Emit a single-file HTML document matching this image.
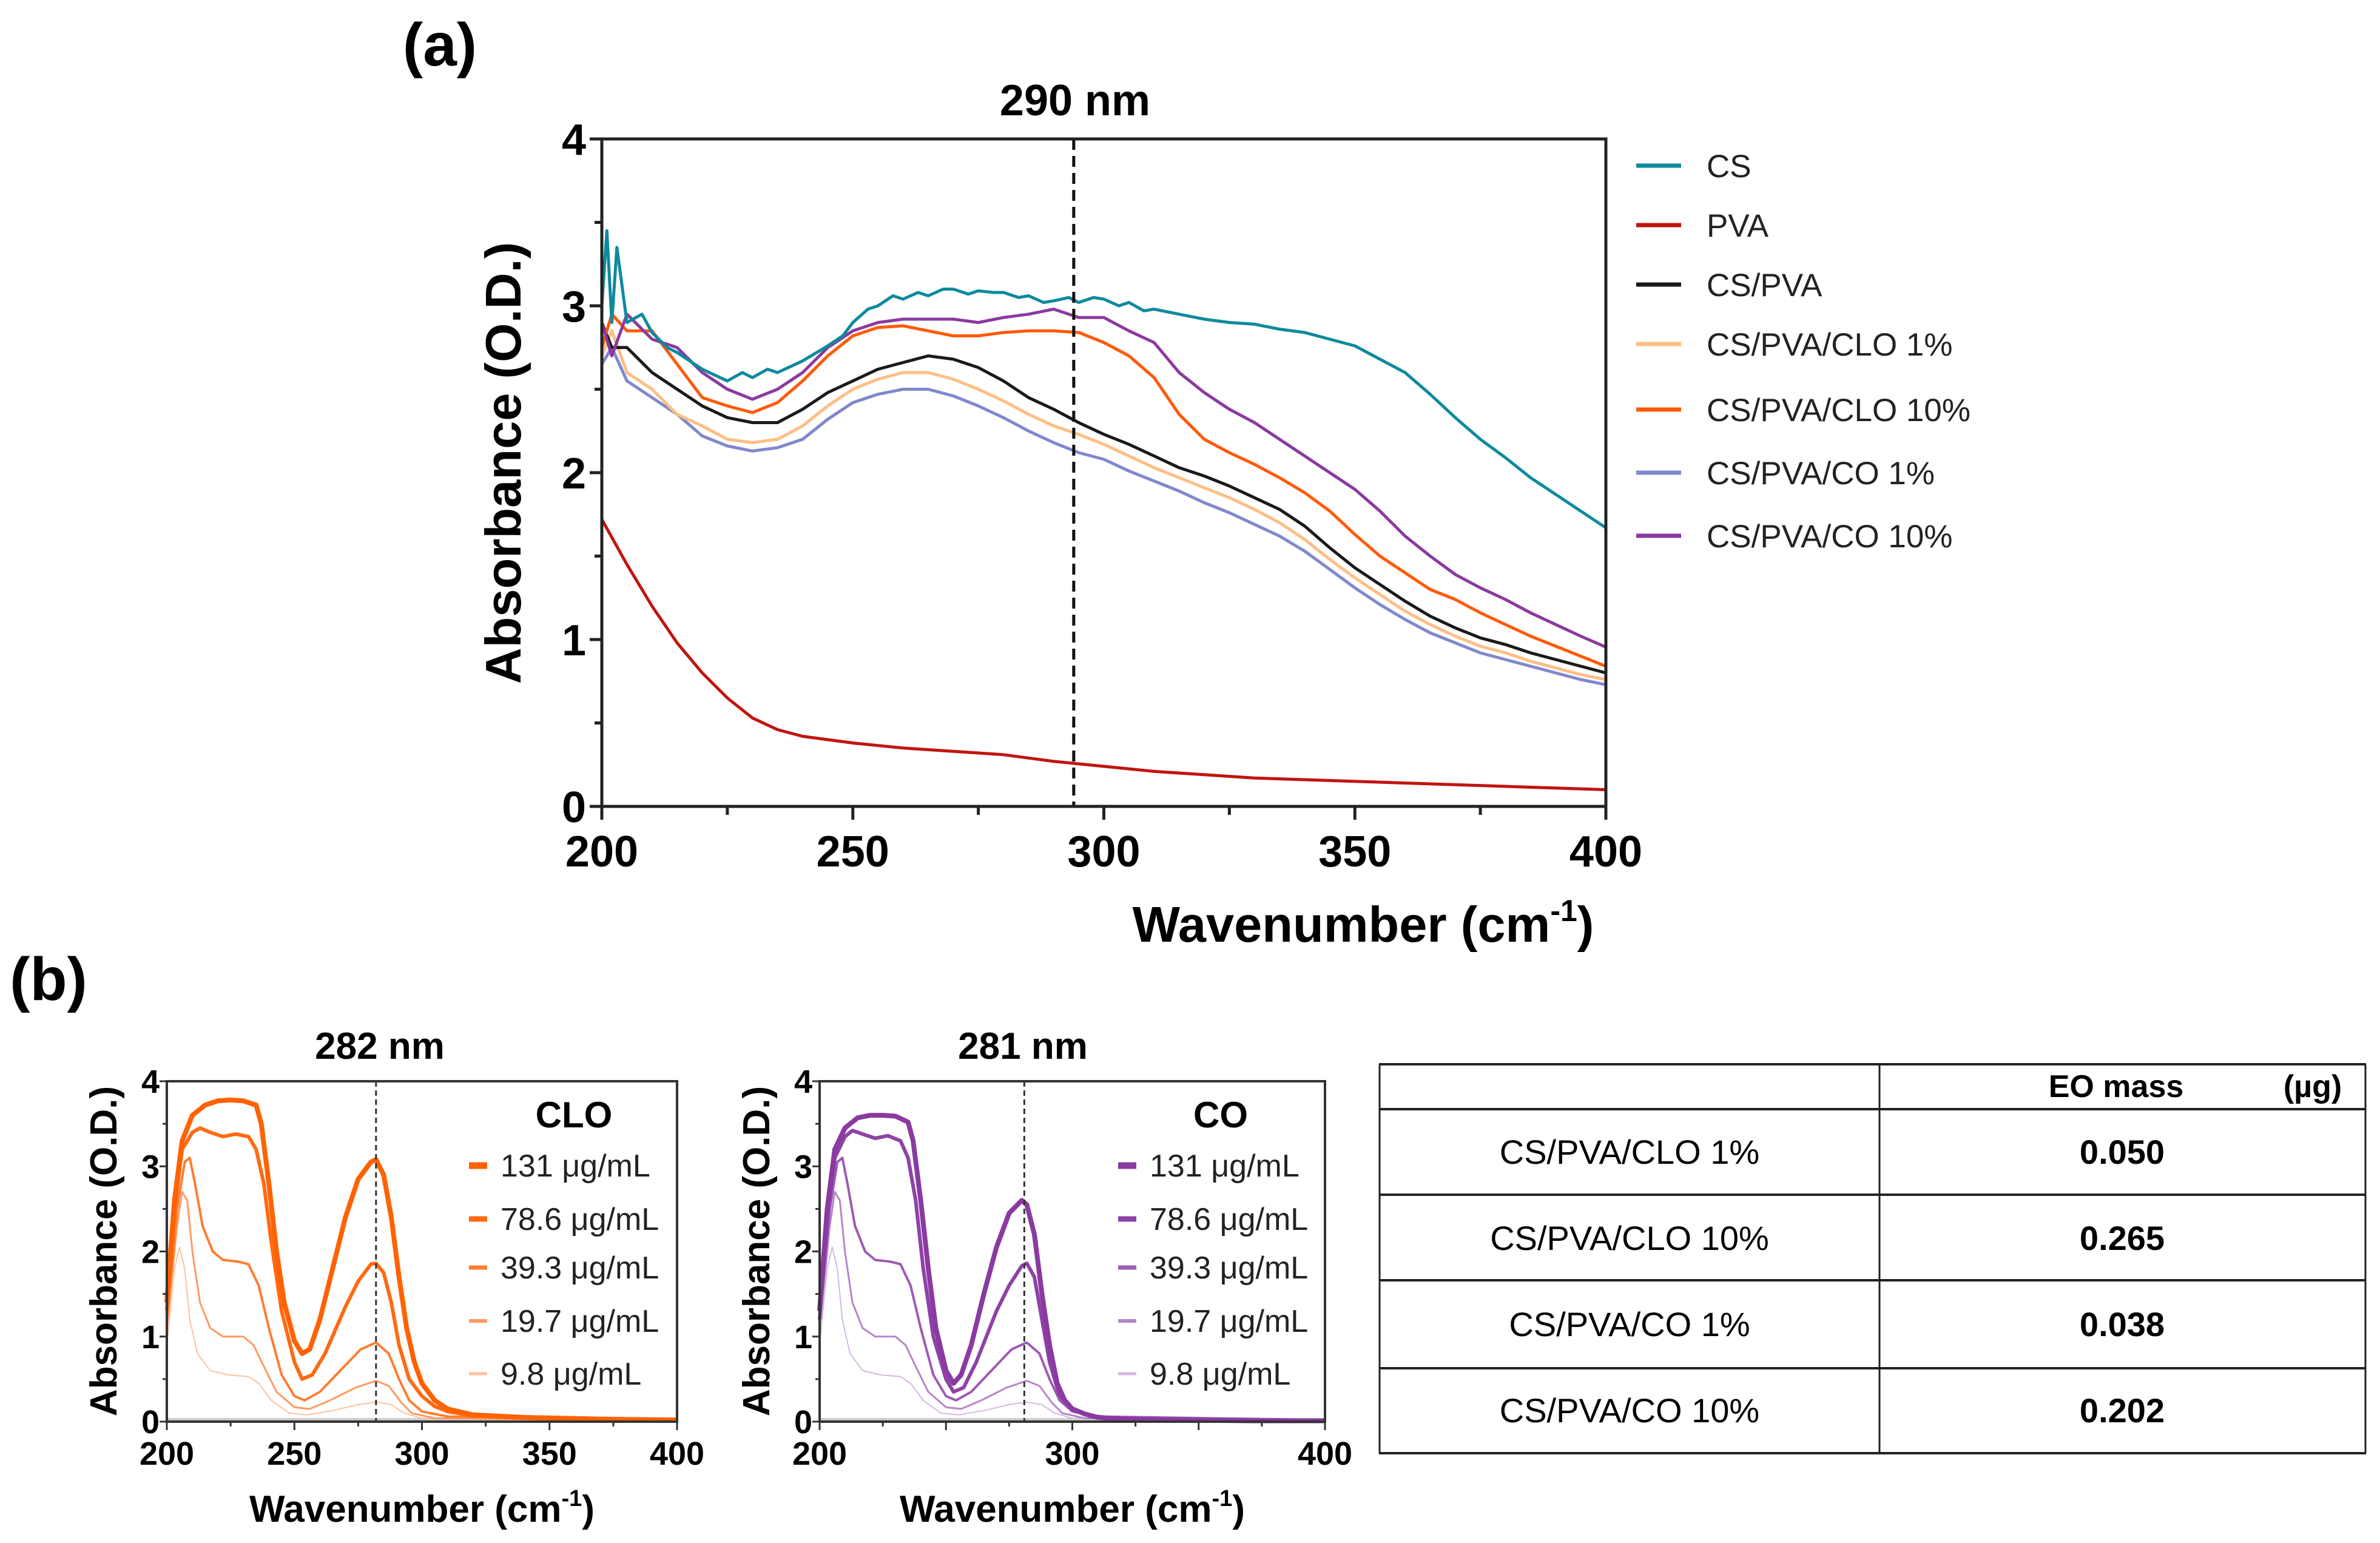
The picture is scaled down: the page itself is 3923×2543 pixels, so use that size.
<!DOCTYPE html>
<html><head><meta charset="utf-8">
<style>
html,body{margin:0;padding:0;background:#fff;}
svg{display:block;font-family:"Liberation Sans",Arial,sans-serif;}
</style></head>
<body>
<svg id="fig" width="3923" height="2543" viewBox="0 0 3923 2543" xmlns="http://www.w3.org/2000/svg">
<rect width="3923" height="2543" fill="#fff"/>
<text x="725" y="108" font-size="100" font-weight="bold" text-anchor="middle">(a)</text>
<text x="80" y="1648" font-size="100" font-weight="bold" text-anchor="middle">(b)</text>
<g id="pa"></g>
<g id="pb1"></g>
<g id="pb2"></g>
<g id="tbl">
  <line x1="2273" y1="1754" x2="3900" y2="1754" stroke="#222" stroke-width="4"/>
  <line x1="2273" y1="1828" x2="3900" y2="1828" stroke="#222" stroke-width="4"/>
  <line x1="2273" y1="1969" x2="3900" y2="1969" stroke="#222" stroke-width="4"/>
  <line x1="2273" y1="2110" x2="3900" y2="2110" stroke="#222" stroke-width="4"/>
  <line x1="2273" y1="2255" x2="3900" y2="2255" stroke="#222" stroke-width="4"/>
  <line x1="2273" y1="2395" x2="3900" y2="2395" stroke="#222" stroke-width="4"/>
  <line x1="2274" y1="1754" x2="2274" y2="2395" stroke="#222" stroke-width="3"/>
  <line x1="3098" y1="1754" x2="3098" y2="2395" stroke="#222" stroke-width="3"/>
  <line x1="3899" y1="1754" x2="3899" y2="2395" stroke="#222" stroke-width="3"/>
  <text x="3488" y="1808" font-size="52" font-weight="bold" text-anchor="middle">EO mass</text>
  <text x="3812" y="1808" font-size="52" font-weight="bold" text-anchor="middle">(µg)</text>
  <text x="2686" y="1918" font-size="56" text-anchor="middle">CS/PVA/CLO 1%</text>
  <text x="3498" y="1918" font-size="56" font-weight="bold" text-anchor="middle">0.050</text>
  <text x="2686" y="2060" font-size="56" text-anchor="middle">CS/PVA/CLO 10%</text>
  <text x="3498" y="2060" font-size="56" font-weight="bold" text-anchor="middle">0.265</text>
  <text x="2686" y="2202" font-size="56" text-anchor="middle">CS/PVA/CO 1%</text>
  <text x="3498" y="2202" font-size="56" font-weight="bold" text-anchor="middle">0.038</text>
  <text x="2686" y="2344" font-size="56" text-anchor="middle">CS/PVA/CO 10%</text>
  <text x="3498" y="2344" font-size="56" font-weight="bold" text-anchor="middle">0.202</text>
</g>
</svg>
<script>
// ---------- Panel (a) data ----------
const aYTicks = [0,1,2,3,4];
const aXTicks = [200,250,300,350,400];
const csX  = [200,201,202,203,205,208,210,213,215,220,225,228,230,233,235,240,245,248,250,253,255,258,260,263,265,268,270,273,275,278,280,283,285,288,290,293,295,298,300,303,305,308,310,315,320,325,330,335,340,345,350,355,360,365,370,375,380,385,390,395,400];
const csY  = [3.0,3.45,2.9,3.35,2.9,2.95,2.84,2.75,2.72,2.62,2.55,2.6,2.57,2.62,2.6,2.67,2.76,2.82,2.9,2.98,3.0,3.06,3.04,3.08,3.06,3.1,3.1,3.07,3.09,3.08,3.08,3.05,3.06,3.02,3.03,3.05,3.02,3.05,3.04,3.0,3.02,2.97,2.98,2.95,2.92,2.9,2.89,2.86,2.84,2.8,2.76,2.68,2.6,2.47,2.33,2.2,2.09,1.97,1.87,1.77,1.67];
const pvaX = [200,205,210,215,220,225,230,235,240,245,250,260,270,280,290,300,310,320,330,340,350,360,370,380,390,400];
const pvaY = [1.72,1.45,1.2,0.98,0.8,0.65,0.53,0.46,0.42,0.4,0.38,0.35,0.33,0.31,0.27,0.24,0.21,0.19,0.17,0.16,0.15,0.14,0.13,0.12,0.11,0.1];
const gX   = [200,202,205,210,215,220,225,230,235,240,245,250,255,260,265,270,275,280,285,290,295,300,305,310,315,320,325,330,335,340,345,350,355,360,365,370,375,380,385,390,395,400];
const csPvaY = [2.9,2.75,2.75,2.6,2.5,2.4,2.33,2.3,2.3,2.38,2.48,2.55,2.62,2.66,2.7,2.68,2.63,2.55,2.45,2.38,2.3,2.23,2.17,2.1,2.03,1.98,1.92,1.85,1.78,1.68,1.55,1.43,1.33,1.23,1.14,1.07,1.01,0.97,0.92,0.88,0.84,0.8];
const clo1Y  = [2.7,2.85,2.6,2.5,2.35,2.28,2.2,2.18,2.2,2.28,2.4,2.5,2.56,2.6,2.6,2.56,2.5,2.43,2.35,2.28,2.23,2.17,2.1,2.03,1.97,1.91,1.85,1.78,1.7,1.6,1.48,1.37,1.27,1.17,1.09,1.02,0.96,0.92,0.87,0.83,0.79,0.76];
const clo10Y = [2.75,2.95,2.85,2.85,2.65,2.45,2.4,2.36,2.42,2.55,2.7,2.82,2.87,2.88,2.85,2.82,2.82,2.84,2.85,2.85,2.84,2.78,2.7,2.57,2.35,2.2,2.12,2.05,1.97,1.88,1.77,1.63,1.5,1.4,1.3,1.24,1.16,1.09,1.02,0.96,0.9,0.84];
const co1Y   = [2.65,2.75,2.55,2.45,2.35,2.22,2.16,2.13,2.15,2.2,2.32,2.42,2.47,2.5,2.5,2.46,2.4,2.33,2.25,2.18,2.12,2.08,2.01,1.95,1.89,1.82,1.76,1.69,1.62,1.53,1.42,1.31,1.21,1.12,1.04,0.98,0.92,0.88,0.84,0.8,0.76,0.73];
const co10Y  = [2.9,2.7,2.95,2.8,2.75,2.6,2.5,2.44,2.5,2.6,2.75,2.85,2.9,2.92,2.92,2.92,2.9,2.93,2.95,2.98,2.93,2.93,2.85,2.78,2.6,2.48,2.38,2.3,2.2,2.1,2.0,1.9,1.77,1.62,1.5,1.39,1.31,1.24,1.16,1.09,1.02,0.955];
const aSeriesNames = ["CS","PVA","CS/PVA","CS/PVA/CLO 1%","CS/PVA/CLO 10%","CS/PVA/CO 1%","CS/PVA/CO 10%"];
const aMarker = 294;

// ---------- Panel (b) data ----------
const bYTicks = [0,1,2,3,4];
const b1XTicks = [200,250,300,350,400];
const b2XTicks = [200,300,400];
const concLabels = ["131 μg/mL","78.6 μg/mL","39.3 μg/mL","19.7 μg/mL","9.8 μg/mL"];
const c131X = [200,203,206,210,215,220,225,230,235,237,240,243,246,250,253,256,260,265,270,275,280,282,285,288,291,294,297,300,305,310,320,340,370,400];
const clo131Y = [1.4,2.6,3.3,3.6,3.72,3.77,3.78,3.77,3.72,3.5,2.8,2.0,1.4,0.95,0.8,0.85,1.2,1.8,2.4,2.85,3.05,3.08,2.9,2.4,1.7,1.1,0.7,0.45,0.25,0.15,0.08,0.05,0.03,0.02];
const c78X = [200,203,206,210,213,217,222,227,232,235,238,241,245,250,253,257,262,270,275,280,282,285,288,291,295,300,305,310,320,340,400];
const clo78Y = [1.3,2.5,3.2,3.4,3.45,3.4,3.35,3.38,3.35,3.2,2.8,2.1,1.3,0.7,0.5,0.55,0.8,1.35,1.65,1.85,1.86,1.75,1.4,0.9,0.5,0.3,0.18,0.12,0.07,0.04,0.02];
const c39X = [200,204,207,209,211,214,218,222,228,232,236,240,245,250,254,260,268,276,282,287,291,295,300,310,400];
const clo39Y = [1.2,2.5,3.05,3.1,2.8,2.3,2.0,1.9,1.88,1.85,1.6,1.1,0.55,0.3,0.25,0.35,0.6,0.85,0.93,0.8,0.5,0.25,0.12,0.06,0.02];
const c19X = [200,204,206,208,210,213,217,222,230,234,238,243,250,256,264,274,282,287,292,296,305,400];
const clo19Y = [1.1,2.3,2.7,2.6,2.0,1.4,1.1,1.0,1.0,0.9,0.65,0.35,0.17,0.15,0.25,0.4,0.48,0.42,0.22,0.1,0.04,0.01];
const c9X = [200,203,205,207,209,212,217,224,232,236,241,248,255,265,275,282,288,293,300,400];
const clo9Y = [0.9,1.8,2.05,1.8,1.2,0.8,0.6,0.55,0.53,0.45,0.25,0.1,0.08,0.13,0.2,0.23,0.2,0.1,0.04,0.01];
const co131Y = [1.3,2.5,3.2,3.45,3.57,3.6,3.6,3.59,3.52,3.3,2.6,1.8,1.1,0.6,0.45,0.55,0.9,1.5,2.05,2.45,2.6,2.55,2.2,1.5,0.9,0.45,0.25,0.15,0.09,0.05,0.03,0.02,0.01,0.01];
const co78Y = [1.2,2.4,3.1,3.35,3.42,3.38,3.33,3.36,3.3,3.1,2.6,1.8,1.0,0.5,0.35,0.4,0.7,1.3,1.6,1.83,1.86,1.7,1.2,0.7,0.3,0.15,0.09,0.06,0.03,0.02,0.01];
const co39Y = clo39Y;
const co19Y = clo19Y;
const co9Y = clo9Y;

const NS = "http://www.w3.org/2000/svg";
function el(tag, attrs, parent){
  const e = document.createElementNS(NS, tag);
  for (const k in attrs) e.setAttribute(k, attrs[k]);
  parent.appendChild(e);
  return e;
}
function pathD(xs, ys, sx, sy){
  let d = "";
  for (let i=0;i<xs.length;i++){ d += (i?"L":"M") + sx(xs[i]).toFixed(1) + "," + sy(ys[i]).toFixed(1); }
  return d;
}

// ---------- Draw panel (a) ----------
(function(){
  const g = document.getElementById("pa");
  const L=992,R=2647,T=229,B=1329;
  const sx = v => L + (v-200)/200*(R-L);
  const sy = v => B - v/4*(B-T);
  const series = [
    [csX,csY,"#0e8a9e"],[pvaX,pvaY,"#c0150f"],[gX,csPvaY,"#1a1a1a"],[gX,clo1Y,"#ffbe85"],
    [gX,clo10Y,"#ff5a0a"],[gX,co1Y,"#8088cc"],[gX,co10Y,"#8a3aa0"]
  ];
  const order=[5,3,2,4,6,0,1];
  order.forEach(i=>{
    const s=series[i];
    const p = el("path",{d:pathD(s[0],s[1],sx,sy),fill:"none",stroke:s[2],"stroke-width":5,"stroke-linejoin":"round"},g);
    
    
  });
  const dl = el("line",{x1:sx(aMarker),x2:sx(aMarker),y1:T,y2:B,stroke:"#111","stroke-width":5,"stroke-dasharray":"18,10"},g);
  
  
  const mt = el("text",{x:1772,y:190,"font-size":72,"font-weight":"bold","text-anchor":"middle"},g);
  mt.textContent="290 nm";
  
  
  const fr = el("rect",{x:L,y:T,width:R-L,height:B-T,fill:"none",stroke:"#222","stroke-width":5},g);
  
  
  for (let v=0; v<=4.001; v+=0.5){
    const major = Math.abs(v-Math.round(v))<1e-6;
    el("line",{x1:L-(major?20:12),x2:L,y1:sy(v),y2:sy(v),stroke:"#222","stroke-width":5},g);
  }
  aYTicks.forEach(v=>{
    const t=el("text",{x:L-26,y:sy(v)+26,"font-size":72,"font-weight":"bold","text-anchor":"end"},g);
    t.textContent=v;
    
    
  });
  for (let v=200; v<=400; v+=25){
    const major = v%50===0;
    el("line",{x1:sx(v),x2:sx(v),y1:B,y2:B+(major?22:14),stroke:"#222","stroke-width":5},g);
  }
  aXTicks.forEach(v=>{
    const t=el("text",{x:sx(v),y:1428,"font-size":72,"font-weight":"bold","text-anchor":"middle"},g);
    t.textContent=v;
    
    
  });
  const yt = el("text",{x:0,y:0,"font-size":83,"font-weight":"bold","text-anchor":"middle",transform:"translate(858,763) rotate(-90)"},g);
  yt.textContent="Absorbance (O.D.)";
  
  
  const xt = el("text",{x:2247,y:1552,"font-size":83,"font-weight":"bold","text-anchor":"middle"},g);
  xt.innerHTML='Wavenumber (cm<tspan font-size="50" dy="-34">-1</tspan><tspan dy="34">)</tspan>';
  
  
  const ly=[273,371,469,567,675,779,883];
  aSeriesNames.forEach((n,i)=>{
    const ln=el("line",{x1:2697,x2:2771,y1:ly[i],y2:ly[i],stroke:series[i][2],"stroke-width":7},g);
    
    
    const t=el("text",{x:2813,y:ly[i]+19,"font-size":53,fill:"#222"},g);
    t.textContent=n;
    
    
  });
})();

// ---------- Draw panel (b) ----------
function drawB(gid, L, R, xticks, peak, title, oil, titleX, oilX, legX, colors, ys){
  const g = document.getElementById(gid);
  const T=1782,B=2343;
  const sx = v => L + (v-200)/200*(R-L);
  const sy = v => B - v/4*(B-T);
  const xs=[c131X,c78X,c39X,c19X,c9X];
  const widths=[8,6,4,3,2];
  el("line",{x1:L,x2:R,y1:B-4,y2:B-4,stroke:"#ccc","stroke-width":4},g);
  for (let i=4;i>=0;i--){
    const p=el("path",{d:pathD(xs[i],ys[i],sx,sy),fill:"none",stroke:colors[i],"stroke-width":widths[i],"stroke-linejoin":"round"},g);
    
    
  }
  const dl=el("line",{x1:sx(peak),x2:sx(peak),y1:T,y2:B,stroke:"#333","stroke-width":3,"stroke-dasharray":"9,6"},g);
  
  
  const fr=el("rect",{x:L,y:T,width:R-L,height:B-T,fill:"none",stroke:"#333","stroke-width":4},g);
  
  
  for (let v=0; v<=4.001; v+=0.5){
    el("line",{x1:L-(Math.abs(v-Math.round(v))<1e-6?12:7),x2:L,y1:sy(v),y2:sy(v),stroke:"#333","stroke-width":3},g);
  }
  bYTicks.forEach(v=>{
    const t=el("text",{x:L-12,y:sy(v)+19,"font-size":54,"font-weight":"bold","text-anchor":"end"},g);
    t.textContent=v;
    
    
  });
  for (let v=200; v<=400; v+=25){
    el("line",{x1:sx(v),x2:sx(v),y1:B,y2:B+(v%50===0?14:8),stroke:"#333","stroke-width":3},g);
  }
  xticks.forEach(v=>{
    const t=el("text",{x:sx(v),y:2414,"font-size":54,"font-weight":"bold","text-anchor":"middle"},g);
    t.textContent=v;
    
    
  });
  const tt=el("text",{x:titleX,y:1745,"font-size":62,"font-weight":"bold","text-anchor":"middle"},g);
  tt.textContent=title;
  
  
  const ot=el("text",{x:oilX,y:1858,"font-size":60,"font-weight":"bold","text-anchor":"middle"},g);
  ot.textContent=oil;
  
  
  const yt=el("text",{x:0,y:0,"font-size":62,"font-weight":"bold","text-anchor":"middle",transform:"translate("+(L-83)+",2062) rotate(-90)"},g);
  yt.textContent="Absorbance (O.D.)";
  
  
  const xt=el("text",{x:(L+R)/2,y:2508,"font-size":62,"font-weight":"bold","text-anchor":"middle"},g);
  xt.innerHTML='Wavenumber (cm<tspan font-size="38" dy="-26">-1</tspan><tspan dy="26">)</tspan>';
  
  
  const ly=[1921,2009,2089,2177,2264];
  concLabels.forEach((n,i)=>{
    const ln=el("line",{x1:legX,x2:legX+30,y1:ly[i],y2:ly[i],stroke:colors[i],"stroke-width":widths[i]+3},g);
    
    
    const t=el("text",{x:legX+52,y:ly[i]+18,"font-size":52,fill:"#222"},g);
    t.textContent=n;
    
    
  });
}
drawB("pb1",275,1116,b1XTicks,282,"282 nm","CLO",626,946,773,
  ["#ff6200","#ff6a12","#ff7d30","#ff9a62","#ffc19c"],[clo131Y,clo78Y,clo39Y,clo19Y,clo9Y]);
drawB("pb2",1351,2184,b2XTicks,281,"281 nm","CO",1686,2012,1843,
  ["#8a3aa0","#8e42a6","#9e5ab4","#b785c9","#d6b8e2"],[co131Y,co78Y,co39Y,co19Y,co9Y]);
</script>
</body></html>
